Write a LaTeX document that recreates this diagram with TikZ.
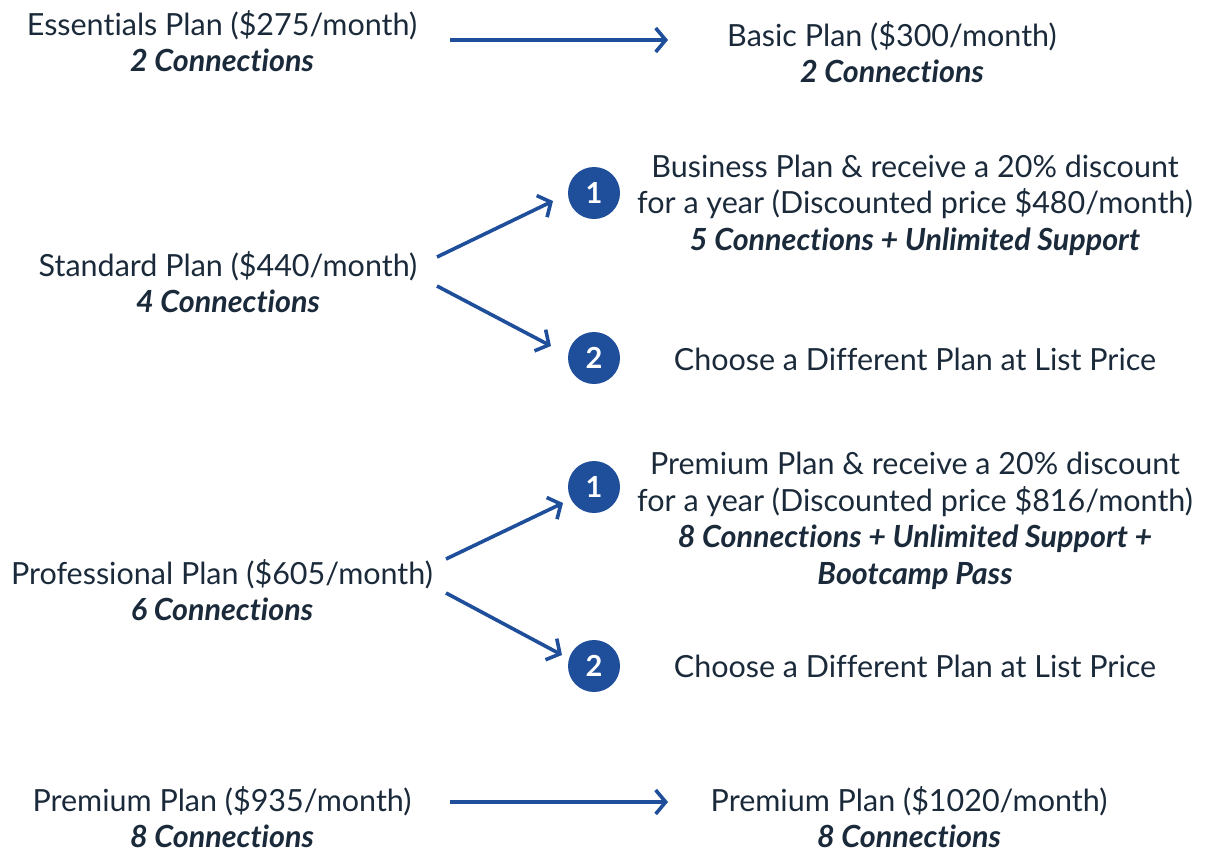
\documentclass[tikz,border=0pt]{standalone}
\usepackage{fontspec}
\setmainfont[Ligatures={NoCommon}]{Lato}
\usetikzlibrary{arrows.meta}
\definecolor{txt}{HTML}{1B2A3A}
\definecolor{blu}{HTML}{1F4E9A}
\tikzset{
  lbl/.style={align=center, text=txt, font=\fontsize{30.5}{36.5}\selectfont, inner sep=0pt},
  conn/.style={draw=blu, line width=3.6pt, -{Straight Barb[length=10pt, width=24pt, line width=3.6pt]}},
  num/.style={circle, fill=blu, minimum size=52pt, inner sep=0pt, text=white, font=\fontsize{29}{29}\selectfont\bfseries},
}
\newcommand{\bi}[1]{\textbf{\textit{#1}}}
\begin{document}
\begin{tikzpicture}[x=1pt,y=-1pt]
\useasboundingbox (0,0) rectangle (1207,849);
% row 1
\node[lbl] (ess) at (222,41) {Essentials Plan (\$275/month)\\\bi{2 Connections}};
\node[lbl] (basic) at (892,52) {Basic Plan (\$300/month)\\\bi{2 Connections}};
\coordinate (a1s) at (450,40);
\coordinate (a1e) at (668,40);
\draw[conn] (a1s) -- (a1e);
% row 2
\node[lbl] (std) at (228,282) {Standard Plan (\$440/month)\\\bi{4 Connections}};
\node[num] (c1a) at (594,193) {1};
\node[num] (c2a) at (594,358) {2};
\node[lbl] (bus) at (915,205) {Business Plan \& receive a 20\% discount\\for a year (Discounted price \$480/month)\\\bi{5 Connections + Unlimited Support}};
\node[lbl] (cha) at (915,359) {Choose a Different Plan at List Price};
\coordinate (s1s) at (437,257);
\coordinate (s1e) at (553,201);
\coordinate (s2s) at (437,286);
\coordinate (s2e) at (551,346);
\draw[conn] (s1s) -- (s1e);
\draw[conn] (s2s) -- (s2e);
% row 3
\node[lbl] (pro) at (222,590) {Professional Plan (\$605/month)\\\bi{6 Connections}};
\node[num] (c1b) at (594,487) {1};
\node[num] (c2b) at (594,666) {2};
\node[lbl] (prem) at (915,521) {Premium Plan \& receive a 20\% discount\\for a year (Discounted price \$816/month)\\\bi{8 Connections + Unlimited Support +}\\\bi{Bootcamp Pass}};
\node[lbl] (chb) at (915,666) {Choose a Different Plan at List Price};
\coordinate (p1s) at (446,559);
\coordinate (p1e) at (563,503);
\coordinate (p2s) at (446,593);
\coordinate (p2e) at (562,655);
\draw[conn] (p1s) -- (p1e);
\draw[conn] (p2s) -- (p2e);
% row 4
\node[lbl] (pold) at (222,817) {Premium Plan (\$935/month)\\\bi{8 Connections}};
\node[lbl] (pnew) at (909,817) {Premium Plan (\$1020/month)\\\bi{8 Connections}};
\coordinate (a4s) at (450,802);
\coordinate (a4e) at (668,802);
\draw[conn] (a4s) -- (a4e);
\end{tikzpicture}
\end{document}
